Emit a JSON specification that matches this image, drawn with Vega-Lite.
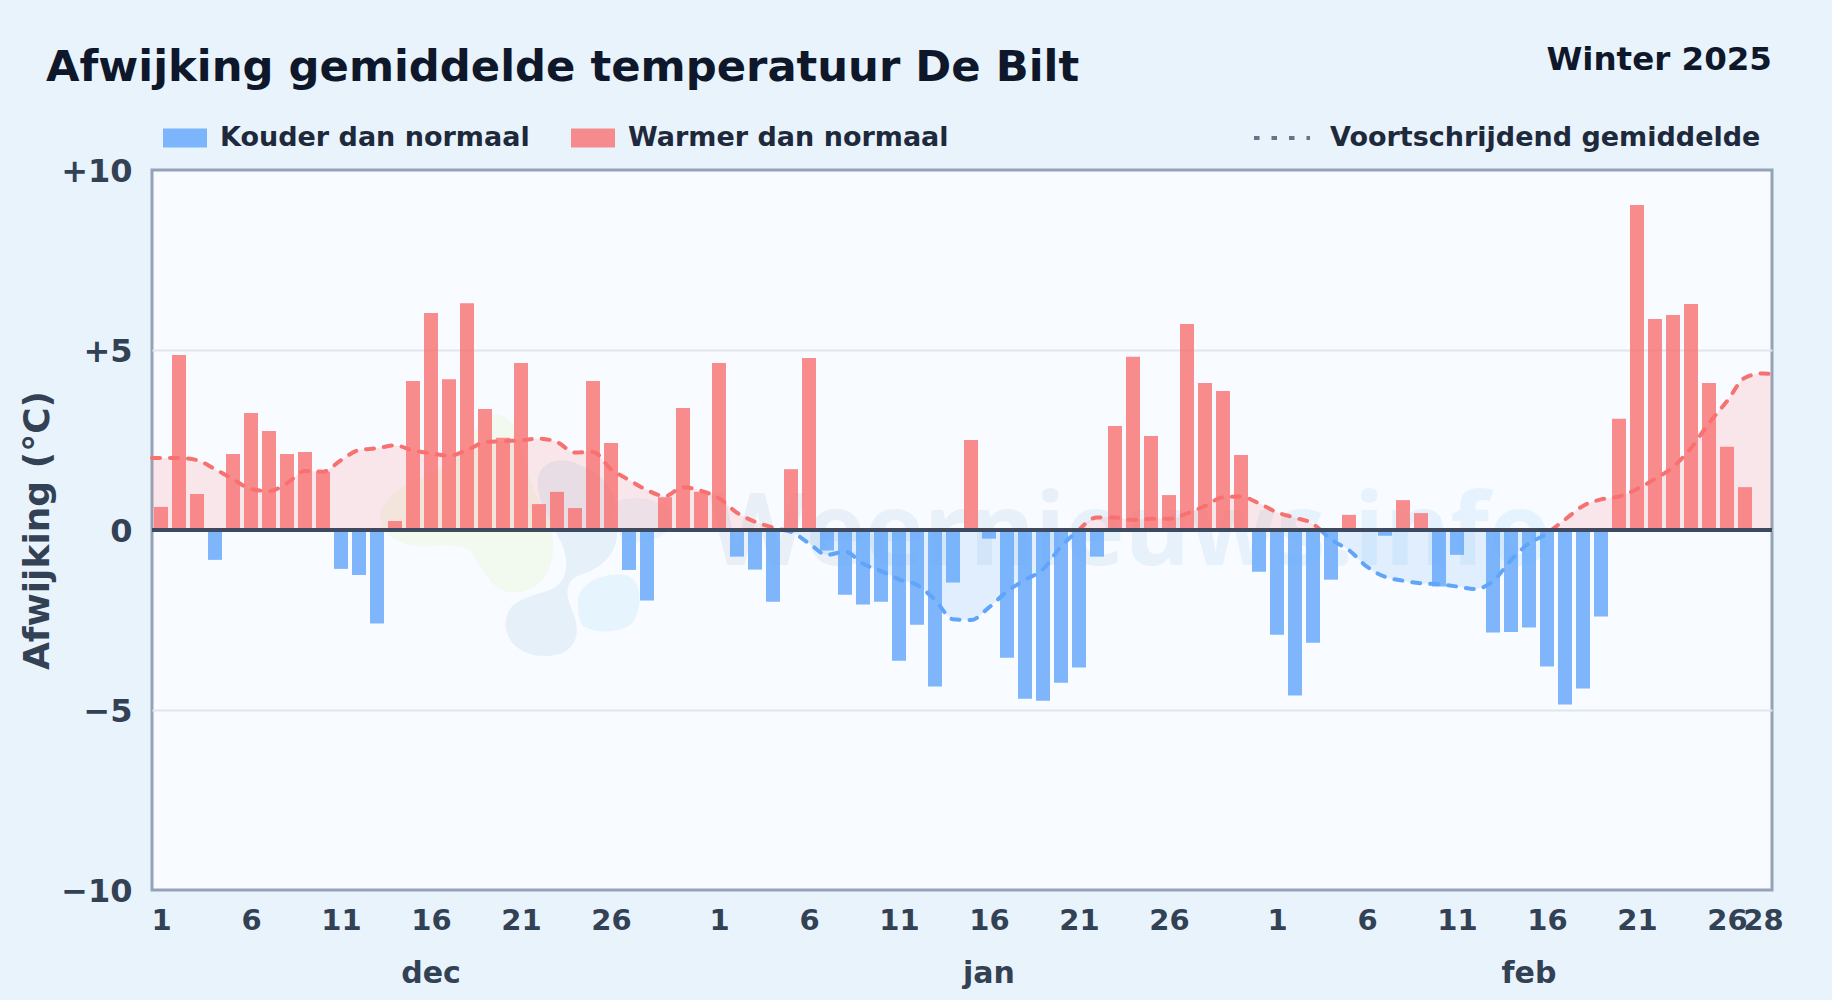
{"$schema":"https://vega.github.io/schema/vega-lite/v6.json","width":1620,"height":720,"autosize":"none","padding":{"left":152,"top":170,"right":60,"bottom":110},"background":"#e8f3fc","config":{"font":"DejaVu Sans","view":{"fill":"#f8fbff","stroke":"#94a3b8","strokeWidth":3}},"title":{"text":"Afwijking gemiddelde temperatuur De Bilt","anchor":"start","frame":"group","align":"left","dx":-106,"offset":-46,"fontSize":43.3,"fontWeight":"bold","color":"#0f172a","font":"DejaVu Sans"},"datasets":{"bars":[{"date":"2024-12-01","value":0.64,"type":"Warmer dan normaal"},{"date":"2024-12-02","value":4.86,"type":"Warmer dan normaal"},{"date":"2024-12-03","value":1.0,"type":"Warmer dan normaal"},{"date":"2024-12-04","value":-0.83,"type":"Kouder dan normaal"},{"date":"2024-12-05","value":2.11,"type":"Warmer dan normaal"},{"date":"2024-12-06","value":3.25,"type":"Warmer dan normaal"},{"date":"2024-12-07","value":2.75,"type":"Warmer dan normaal"},{"date":"2024-12-08","value":2.11,"type":"Warmer dan normaal"},{"date":"2024-12-09","value":2.17,"type":"Warmer dan normaal"},{"date":"2024-12-10","value":1.62,"type":"Warmer dan normaal"},{"date":"2024-12-11","value":-1.08,"type":"Kouder dan normaal"},{"date":"2024-12-12","value":-1.25,"type":"Kouder dan normaal"},{"date":"2024-12-13","value":-2.6,"type":"Kouder dan normaal"},{"date":"2024-12-14","value":0.25,"type":"Warmer dan normaal"},{"date":"2024-12-15","value":4.14,"type":"Warmer dan normaal"},{"date":"2024-12-16","value":6.03,"type":"Warmer dan normaal"},{"date":"2024-12-17","value":4.19,"type":"Warmer dan normaal"},{"date":"2024-12-18","value":6.3,"type":"Warmer dan normaal"},{"date":"2024-12-19","value":3.36,"type":"Warmer dan normaal"},{"date":"2024-12-20","value":2.56,"type":"Warmer dan normaal"},{"date":"2024-12-21","value":4.64,"type":"Warmer dan normaal"},{"date":"2024-12-22","value":0.72,"type":"Warmer dan normaal"},{"date":"2024-12-23","value":1.06,"type":"Warmer dan normaal"},{"date":"2024-12-24","value":0.61,"type":"Warmer dan normaal"},{"date":"2024-12-25","value":4.14,"type":"Warmer dan normaal"},{"date":"2024-12-26","value":2.42,"type":"Warmer dan normaal"},{"date":"2024-12-27","value":-1.11,"type":"Kouder dan normaal"},{"date":"2024-12-28","value":-1.96,"type":"Kouder dan normaal"},{"date":"2024-12-29","value":0.91,"type":"Warmer dan normaal"},{"date":"2024-12-30","value":3.39,"type":"Warmer dan normaal"},{"date":"2024-12-31","value":1.06,"type":"Warmer dan normaal"},{"date":"2025-01-01","value":4.64,"type":"Warmer dan normaal"},{"date":"2025-01-02","value":-0.74,"type":"Kouder dan normaal"},{"date":"2025-01-03","value":-1.1,"type":"Kouder dan normaal"},{"date":"2025-01-04","value":-1.99,"type":"Kouder dan normaal"},{"date":"2025-01-05","value":1.69,"type":"Warmer dan normaal"},{"date":"2025-01-06","value":4.78,"type":"Warmer dan normaal"},{"date":"2025-01-07","value":-0.57,"type":"Kouder dan normaal"},{"date":"2025-01-08","value":-1.8,"type":"Kouder dan normaal"},{"date":"2025-01-09","value":-2.07,"type":"Kouder dan normaal"},{"date":"2025-01-10","value":-1.99,"type":"Kouder dan normaal"},{"date":"2025-01-11","value":-3.63,"type":"Kouder dan normaal"},{"date":"2025-01-12","value":-2.63,"type":"Kouder dan normaal"},{"date":"2025-01-13","value":-4.35,"type":"Kouder dan normaal"},{"date":"2025-01-14","value":-1.46,"type":"Kouder dan normaal"},{"date":"2025-01-15","value":2.5,"type":"Warmer dan normaal"},{"date":"2025-01-16","value":-0.24,"type":"Kouder dan normaal"},{"date":"2025-01-17","value":-3.55,"type":"Kouder dan normaal"},{"date":"2025-01-18","value":-4.69,"type":"Kouder dan normaal"},{"date":"2025-01-19","value":-4.74,"type":"Kouder dan normaal"},{"date":"2025-01-20","value":-4.24,"type":"Kouder dan normaal"},{"date":"2025-01-21","value":-3.82,"type":"Kouder dan normaal"},{"date":"2025-01-22","value":-0.74,"type":"Kouder dan normaal"},{"date":"2025-01-23","value":2.89,"type":"Warmer dan normaal"},{"date":"2025-01-24","value":4.81,"type":"Warmer dan normaal"},{"date":"2025-01-25","value":2.61,"type":"Warmer dan normaal"},{"date":"2025-01-26","value":0.97,"type":"Warmer dan normaal"},{"date":"2025-01-27","value":5.72,"type":"Warmer dan normaal"},{"date":"2025-01-28","value":4.08,"type":"Warmer dan normaal"},{"date":"2025-01-29","value":3.86,"type":"Warmer dan normaal"},{"date":"2025-01-30","value":2.08,"type":"Warmer dan normaal"},{"date":"2025-01-31","value":-1.16,"type":"Kouder dan normaal"},{"date":"2025-02-01","value":-2.91,"type":"Kouder dan normaal"},{"date":"2025-02-02","value":-4.6,"type":"Kouder dan normaal"},{"date":"2025-02-03","value":-3.13,"type":"Kouder dan normaal"},{"date":"2025-02-04","value":-1.38,"type":"Kouder dan normaal"},{"date":"2025-02-05","value":0.42,"type":"Warmer dan normaal"},{"date":"2025-02-07","value":-0.16,"type":"Kouder dan normaal"},{"date":"2025-02-08","value":0.83,"type":"Warmer dan normaal"},{"date":"2025-02-09","value":0.47,"type":"Warmer dan normaal"},{"date":"2025-02-10","value":-1.57,"type":"Kouder dan normaal"},{"date":"2025-02-11","value":-0.69,"type":"Kouder dan normaal"},{"date":"2025-02-13","value":-2.85,"type":"Kouder dan normaal"},{"date":"2025-02-14","value":-2.83,"type":"Kouder dan normaal"},{"date":"2025-02-15","value":-2.71,"type":"Kouder dan normaal"},{"date":"2025-02-16","value":-3.79,"type":"Kouder dan normaal"},{"date":"2025-02-17","value":-4.85,"type":"Kouder dan normaal"},{"date":"2025-02-18","value":-4.4,"type":"Kouder dan normaal"},{"date":"2025-02-19","value":-2.4,"type":"Kouder dan normaal"},{"date":"2025-02-20","value":3.09,"type":"Warmer dan normaal"},{"date":"2025-02-21","value":9.03,"type":"Warmer dan normaal"},{"date":"2025-02-22","value":5.86,"type":"Warmer dan normaal"},{"date":"2025-02-23","value":5.97,"type":"Warmer dan normaal"},{"date":"2025-02-24","value":6.28,"type":"Warmer dan normaal"},{"date":"2025-02-25","value":4.08,"type":"Warmer dan normaal"},{"date":"2025-02-26","value":2.31,"type":"Warmer dan normaal"},{"date":"2025-02-27","value":1.19,"type":"Warmer dan normaal"}],"ma":[{"date":"2024-11-30T12:00:00Z","ma":2.0,"seg":1,"type":"warm"},{"date":"2024-12-01","ma":2.0,"seg":1,"type":"warm"},{"date":"2024-12-02","ma":2.0,"seg":1,"type":"warm"},{"date":"2024-12-03","ma":1.94,"seg":1,"type":"warm"},{"date":"2024-12-04","ma":1.69,"seg":1,"type":"warm"},{"date":"2024-12-05","ma":1.41,"seg":1,"type":"warm"},{"date":"2024-12-06","ma":1.14,"seg":1,"type":"warm"},{"date":"2024-12-07","ma":1.08,"seg":1,"type":"warm"},{"date":"2024-12-08","ma":1.3,"seg":1,"type":"warm"},{"date":"2024-12-09","ma":1.64,"seg":1,"type":"warm"},{"date":"2024-12-10","ma":1.62,"seg":1,"type":"warm"},{"date":"2024-12-11","ma":1.94,"seg":1,"type":"warm"},{"date":"2024-12-12","ma":2.22,"seg":1,"type":"warm"},{"date":"2024-12-13","ma":2.27,"seg":1,"type":"warm"},{"date":"2024-12-14","ma":2.35,"seg":1,"type":"warm"},{"date":"2024-12-15","ma":2.21,"seg":1,"type":"warm"},{"date":"2024-12-16","ma":2.13,"seg":1,"type":"warm"},{"date":"2024-12-17","ma":2.06,"seg":1,"type":"warm"},{"date":"2024-12-18","ma":2.22,"seg":1,"type":"warm"},{"date":"2024-12-19","ma":2.44,"seg":1,"type":"warm"},{"date":"2024-12-20","ma":2.47,"seg":1,"type":"warm"},{"date":"2024-12-21","ma":2.49,"seg":1,"type":"warm"},{"date":"2024-12-22","ma":2.54,"seg":1,"type":"warm"},{"date":"2024-12-23","ma":2.44,"seg":1,"type":"warm"},{"date":"2024-12-24","ma":2.15,"seg":1,"type":"warm"},{"date":"2024-12-25","ma":2.17,"seg":1,"type":"warm"},{"date":"2024-12-26","ma":1.69,"seg":1,"type":"warm"},{"date":"2024-12-27","ma":1.39,"seg":1,"type":"warm"},{"date":"2024-12-28","ma":1.11,"seg":1,"type":"warm"},{"date":"2024-12-29","ma":0.94,"seg":1,"type":"warm"},{"date":"2024-12-30","ma":1.19,"seg":1,"type":"warm"},{"date":"2024-12-31","ma":1.09,"seg":1,"type":"warm"},{"date":"2025-01-01","ma":0.88,"seg":1,"type":"warm"},{"date":"2025-01-02","ma":0.48,"seg":1,"type":"warm"},{"date":"2025-01-03","ma":0.23,"seg":1,"type":"warm"},{"date":"2025-01-04","ma":0.07,"seg":1,"type":"warm"},{"date":"2025-01-04T14:00:00Z","ma":0,"seg":1,"type":"warm"},{"date":"2025-01-04T14:00:00Z","ma":0,"seg":2,"type":"koud"},{"date":"2025-01-05","ma":-0.05,"seg":2,"type":"koud"},{"date":"2025-01-06","ma":-0.37,"seg":2,"type":"koud"},{"date":"2025-01-07","ma":-0.69,"seg":2,"type":"koud"},{"date":"2025-01-08","ma":-0.6,"seg":2,"type":"koud"},{"date":"2025-01-09","ma":-0.94,"seg":2,"type":"koud"},{"date":"2025-01-10","ma":-1.14,"seg":2,"type":"koud"},{"date":"2025-01-11","ma":-1.37,"seg":2,"type":"koud"},{"date":"2025-01-12","ma":-1.53,"seg":2,"type":"koud"},{"date":"2025-01-13","ma":-1.94,"seg":2,"type":"koud"},{"date":"2025-01-14","ma":-2.48,"seg":2,"type":"koud"},{"date":"2025-01-15","ma":-2.5,"seg":2,"type":"koud"},{"date":"2025-01-16","ma":-2.15,"seg":2,"type":"koud"},{"date":"2025-01-17","ma":-1.71,"seg":2,"type":"koud"},{"date":"2025-01-18","ma":-1.39,"seg":2,"type":"koud"},{"date":"2025-01-19","ma":-1.09,"seg":2,"type":"koud"},{"date":"2025-01-20","ma":-0.46,"seg":2,"type":"koud"},{"date":"2025-01-21","ma":0,"seg":2,"type":"koud"},{"date":"2025-01-21","ma":0,"seg":3,"type":"warm"},{"date":"2025-01-22","ma":0.35,"seg":3,"type":"warm"},{"date":"2025-01-23","ma":0.35,"seg":3,"type":"warm"},{"date":"2025-01-24","ma":0.28,"seg":3,"type":"warm"},{"date":"2025-01-25","ma":0.31,"seg":3,"type":"warm"},{"date":"2025-01-26","ma":0.31,"seg":3,"type":"warm"},{"date":"2025-01-27","ma":0.46,"seg":3,"type":"warm"},{"date":"2025-01-28","ma":0.67,"seg":3,"type":"warm"},{"date":"2025-01-29","ma":0.91,"seg":3,"type":"warm"},{"date":"2025-01-30","ma":0.93,"seg":3,"type":"warm"},{"date":"2025-01-31","ma":0.74,"seg":3,"type":"warm"},{"date":"2025-02-01","ma":0.49,"seg":3,"type":"warm"},{"date":"2025-02-02","ma":0.34,"seg":3,"type":"warm"},{"date":"2025-02-03","ma":0.17,"seg":3,"type":"warm"},{"date":"2025-02-03T10:00:00Z","ma":0,"seg":3,"type":"warm"},{"date":"2025-02-03T10:00:00Z","ma":0,"seg":4,"type":"koud"},{"date":"2025-02-04","ma":-0.26,"seg":4,"type":"koud"},{"date":"2025-02-05","ma":-0.56,"seg":4,"type":"koud"},{"date":"2025-02-06","ma":-1.02,"seg":4,"type":"koud"},{"date":"2025-02-07","ma":-1.3,"seg":4,"type":"koud"},{"date":"2025-02-08","ma":-1.41,"seg":4,"type":"koud"},{"date":"2025-02-09","ma":-1.48,"seg":4,"type":"koud"},{"date":"2025-02-10","ma":-1.51,"seg":4,"type":"koud"},{"date":"2025-02-11","ma":-1.57,"seg":4,"type":"koud"},{"date":"2025-02-12","ma":-1.64,"seg":4,"type":"koud"},{"date":"2025-02-13","ma":-1.42,"seg":4,"type":"koud"},{"date":"2025-02-14","ma":-0.84,"seg":4,"type":"koud"},{"date":"2025-02-15","ma":-0.37,"seg":4,"type":"koud"},{"date":"2025-02-16","ma":-0.1,"seg":4,"type":"koud"},{"date":"2025-02-16T06:00:00Z","ma":0,"seg":4,"type":"koud"},{"date":"2025-02-16T06:00:00Z","ma":0,"seg":5,"type":"warm"},{"date":"2025-02-17","ma":0.29,"seg":5,"type":"warm"},{"date":"2025-02-18","ma":0.67,"seg":5,"type":"warm"},{"date":"2025-02-19","ma":0.85,"seg":5,"type":"warm"},{"date":"2025-02-20","ma":0.93,"seg":5,"type":"warm"},{"date":"2025-02-21","ma":1.14,"seg":5,"type":"warm"},{"date":"2025-02-22","ma":1.42,"seg":5,"type":"warm"},{"date":"2025-02-23","ma":1.75,"seg":5,"type":"warm"},{"date":"2025-02-24","ma":2.28,"seg":5,"type":"warm"},{"date":"2025-02-25","ma":2.97,"seg":5,"type":"warm"},{"date":"2025-02-26","ma":3.58,"seg":5,"type":"warm"},{"date":"2025-02-27","ma":4.23,"seg":5,"type":"warm"},{"date":"2025-02-28","ma":4.35,"seg":5,"type":"warm"},{"date":"2025-02-28T12:00:00Z","ma":4.33,"seg":5,"type":"warm"}]},"encoding":{"x":{"field":"date","type":"temporal","scale":{"type":"utc","padding":0,"domain":[{"year":2024,"month":11,"date":30,"hours":12,"utc":true},{"year":2025,"month":2,"date":28,"hours":12,"utc":true}]},"axis":{"title":null,"domain":false,"ticks":false,"grid":false,"labelOverlap":false,"labelFontSize":29,"labelFontWeight":"bold","labelColor":"#334155","labelPadding":16,"labelFlush":false,"labelBound":false,"labelExpr":"utcFormat(datum.value,'%-d')","values":[{"year":2024,"month":12,"date":1,"utc":true},{"year":2024,"month":12,"date":6,"utc":true},{"year":2024,"month":12,"date":11,"utc":true},{"year":2024,"month":12,"date":16,"utc":true},{"year":2024,"month":12,"date":21,"utc":true},{"year":2024,"month":12,"date":26,"utc":true},{"year":2025,"month":1,"date":1,"utc":true},{"year":2025,"month":1,"date":6,"utc":true},{"year":2025,"month":1,"date":11,"utc":true},{"year":2025,"month":1,"date":16,"utc":true},{"year":2025,"month":1,"date":21,"utc":true},{"year":2025,"month":1,"date":26,"utc":true},{"year":2025,"month":2,"date":1,"utc":true},{"year":2025,"month":2,"date":6,"utc":true},{"year":2025,"month":2,"date":11,"utc":true},{"year":2025,"month":2,"date":16,"utc":true},{"year":2025,"month":2,"date":21,"utc":true},{"year":2025,"month":2,"date":26,"utc":true},{"year":2025,"month":2,"date":28,"utc":true}]}},"y":{"type":"quantitative","scale":{"domain":[-10,10],"nice":false},"axis":{"title":"Afwijking (°C)","titleFontSize":36,"titleFontWeight":"bold","titleColor":"#334155","titlePadding":4,"domain":false,"ticks":false,"values":[-10,-5,0,5,10],"labelFontSize":32,"labelFontWeight":"bold","labelColor":"#334155","labelPadding":20,"labelOffset":1,"labelBound":false,"labelFlush":false,"gridColor":"#e0e7ec","gridWidth":2,"gridOpacity":{"condition":{"test":"abs(datum.value)==10","value":0},"value":1},"labelExpr":"datum.value==0?'0':(datum.value>0?'+':'−')+abs(datum.value)"}}},"layer":[{"data":{"values":[{"date":"2024-12-19T20:00:00Z","y":0,"blob":"groen"},{"date":"2024-12-19T20:00:00Z","y":0,"blob":"grijs"},{"date":"2024-12-19T20:00:00Z","y":0,"blob":"licht"},{"date":"2024-12-19T20:00:00Z","y":0,"blob":"blauw"}]},"mark":{"type":"point","filled":true,"opacity":1,"strokeWidth":0,"size":40000,"clip":true},"encoding":{"y":{"field":"y"},"shape":{"field":"blob","legend":null,"scale":{"domain":["groen","grijs","licht","blauw"],"range":["M-1.2,-.17 C-1.1,-.45 -.8,-.5 -.5,-.65 C-.3,-.85 -.2,-1.2 0,-1.15 C.2,-1.1 .2,-.8 .3,-.5 C.4,-.2 .55,-.1 .53,.2 C.52,.5 .3,.65 .1,.62 C-.1,.6 -.2,.35 -.3,.2 C-.5,.1 -.7,.2 -.9,.15 C-1.1,.1 -1.2,0 -1.2,-.17 Z","M.38,-.53 C.42,-.68 .6,-.75 .8,-.65 C1.05,-.55 1.2,-.4 1.17,.05 C1.15,.3 .95,.4 .8,.45 C.65,.5 .65,.65 .72,.8 C.85,1.1 .7,1.27 .43,1.26 C.15,1.25 .03,1.05 .06,.9 C.08,.72 .25,.68 .5,.6 C.72,.5 .68,.25 .6,.1 C.5,-.1 .35,-.3 .38,-.53 Z","M.78,.72 C.78,.55 1,.42 1.25,.45 C1.45,.5 1.42,.85 1.3,.95 C1.15,1.05 .9,1.02 .82,.95 C.78,.88 .78,.8 .78,.72 Z","M1.2,-.3 C1.4,-.35 1.7,-.3 1.72,-.1 C1.7,.1 1.4,.15 1.25,.1 C1.15,.05 1.1,-.2 1.2,-.3 Z"]}},"fill":{"field":"blob","legend":null,"scale":{"domain":["groen","grijs","licht","blauw"],"range":["#f2f9ee","#e6f0f8","#e6f4fd","#ebf4fc"]}}}},{"data":{"values":[{"date":"2025-01-23T20:00:00Z","y":-0.97,"label":"Weernieuws.info"}]},"mark":{"type":"text","fontSize":100,"fontWeight":"bold","font":"Open Sans","fill":{"gradient":"linear","x1":0,"x2":1,"y1":0,"y2":0,"stops":[{"offset":0,"color":"#e9eff7"},{"offset":1,"color":"#e5f3fe"}]},"align":"center","baseline":"alphabetic"},"encoding":{"y":{"field":"y"},"text":{"field":"label"}}},{"data":{"name":"ma"},"transform":[{"filter":"datum.type=='warm'"}],"mark":{"type":"area","interpolate":"monotone","color":"#f87171","opacity":0.15},"encoding":{"y":{"field":"ma"},"y2":{"datum":0},"detail":{"field":"seg"}}},{"data":{"name":"ma"},"transform":[{"filter":"datum.type=='koud'"}],"mark":{"type":"area","interpolate":"monotone","color":"#60a5fa","opacity":0.15},"encoding":{"y":{"field":"ma"},"y2":{"datum":0},"detail":{"field":"seg"}}},{"data":{"name":"ma"},"mark":{"type":"line","interpolate":"monotone","strokeWidth":4,"strokeCap":"round","strokeDash":[8,10]},"encoding":{"y":{"field":"ma"},"detail":{"field":"seg"},"stroke":{"field":"type","type":"nominal","legend":null,"scale":{"domain":["koud","warm"],"range":["#60a5fa","#f87171"]}}}},{"data":{"values":[{"date":"2024-12-01","ma":null}]},"mark":{"type":"line","stroke":"#64748b","strokeWidth":4},"encoding":{"y":{"field":"ma"},"strokeDash":{"datum":"Voortschrijdend gemiddelde","scale":{"domain":["Voortschrijdend gemiddelde"],"range":[[5.5,12]]},"legend":{"title":null,"orient":"none","legendX":1100,"legendY":-62,"symbolType":"stroke","symbolSize":3136,"symbolStrokeWidth":4,"symbolStrokeColor":"#64748b","labelFontSize":27,"labelFontWeight":"bold","labelColor":"#1e293b","labelOffset":18,"labelLimit":700,"padding":0}}}},{"data":{"name":"bars"},"mark":{"type":"bar","width":14,"opacity":0.8},"encoding":{"y":{"field":"value"},"color":{"field":"type","type":"nominal","scale":{"domain":["Kouder dan normaal","Warmer dan normaal"],"range":["#60a5fa","#f87171"]},"legend":{"title":null,"orient":"none","legendX":10,"legendY":-55,"direction":"horizontal","symbolType":"M-1,-.43 H1 V.43 H-1 Z","symbolSize":1936,"labelFontSize":27,"labelFontWeight":"bold","labelColor":"#1e293b","labelOffset":12,"labelLimit":500,"columnPadding":40,"padding":0}}}},{"data":{"values":[{"y":0}]},"mark":{"type":"rule","color":"#3d4a5f","strokeWidth":4},"encoding":{"x":null,"y":{"field":"y"}}},{"data":{"values":[{"date":"2024-12-16","y":-12.57,"label":"dec"},{"date":"2025-01-16","y":-12.57,"label":"jan"},{"date":"2025-02-15","y":-12.57,"label":"feb"}]},"mark":{"type":"text","fontSize":30,"fontWeight":"bold","color":"#334155","align":"center","baseline":"alphabetic","clip":false},"encoding":{"y":{"field":"y"},"text":{"field":"label"}}},{"data":{"values":[{"date":"2025-02-28T12:00:00Z","y":12.77,"label":"Winter 2025"}]},"mark":{"type":"text","fontSize":32.5,"fontWeight":"bold","color":"#0f172a","align":"right","baseline":"alphabetic","clip":false},"encoding":{"y":{"field":"y"},"text":{"field":"label"}}}]}
